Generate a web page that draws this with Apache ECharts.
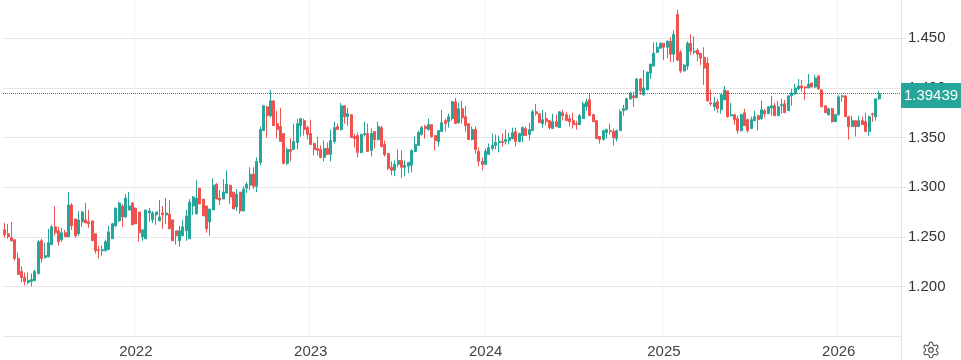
<!DOCTYPE html>
<html>
<head>
<meta charset="utf-8">
<title>Weekly price chart</title>
<style>
    html, body { margin: 0; padding: 0; background: #fff; }
    #chart { width: 961px; height: 360px; }
</style>
<script src="https://cdn.jsdelivr.net/npm/echarts@6/dist/echarts.min.js"></script>
</head>
<body>
<div id="chart"></div>
<script>
// weekly candles, first week starts 2021-04-05
var firstWeek = '2021-04-05';
var emptyWeeks = 6; // free room right of the last candle
var lastPrice = 1.39439;
var yearLabels = ['2022', '2023', '2024', '2025', '2026'];

var opens = [
    1.257,1.253,1.249,1.247,1.228,1.215,1.209,1.204,1.205,1.206,
    1.213,1.246,1.229,1.230,1.242,1.260,1.256,1.247,1.254,1.250,
    1.282,1.268,1.253,1.265,1.267,1.265,1.266,1.253,1.237,1.236,
    1.236,1.237,1.248,1.261,1.266,1.281,1.270,1.277,1.284,1.279,
    1.275,1.250,1.248,1.274,1.267,1.272,1.266,1.274,1.272,1.273,
    1.267,1.256,1.246,1.251,1.256,1.248,1.281,1.273,1.299,1.288,
    1.281,1.265,1.277,1.303,1.289,1.288,1.294,1.302,1.295,1.280,
    1.295,1.276,1.299,1.302,1.313,1.301,1.325,1.357,1.381,1.372,
    1.387,1.364,1.361,1.354,1.324,1.338,1.338,1.345,1.362,1.367,
    1.360,1.354,1.344,1.339,1.338,1.330,1.339,1.333,1.346,1.361,
    1.358,1.382,1.371,1.373,1.351,1.352,1.335,1.353,1.354,1.337,
    1.356,1.348,1.360,1.343,1.334,1.320,1.317,1.323,1.327,1.320,
    1.321,1.322,1.336,1.342,1.353,1.361,1.358,1.363,1.352,1.346,
    1.356,1.367,1.366,1.369,1.386,1.365,1.379,1.371,1.364,1.348,
    1.358,1.336,1.326,1.323,1.333,1.339,1.342,1.345,1.346,1.346,
    1.347,1.349,1.356,1.346,1.352,1.359,1.353,1.357,1.376,1.374,
    1.364,1.369,1.367,1.359,1.366,1.360,1.375,1.373,1.369,1.367,
    1.364,1.363,1.369,1.381,1.388,1.373,1.367,1.351,1.348,1.355,
    1.357,1.356,1.349,1.357,1.377,1.378,1.389,1.392,1.390,1.409,
    1.393,1.398,1.415,1.422,1.436,1.440,1.445,1.441,1.447,1.434,
    1.474,1.436,1.417,1.422,1.445,1.436,1.438,1.435,1.431,1.425,
    1.385,1.381,1.386,1.378,1.388,1.397,1.372,1.373,1.369,1.357,
    1.375,1.368,1.359,1.367,1.372,1.369,1.377,1.374,1.380,1.382,
    1.372,1.382,1.384,1.377,1.392,1.394,1.399,1.402,1.401,1.400,
    1.405,1.401,1.412,1.398,1.382,1.373,1.379,1.366,1.373,1.391,
    1.392,1.371,1.361,1.367,1.361,1.367,1.366,1.356,1.374,1.371,1.389
];
var closes = [
    1.252,1.250,1.246,1.228,1.212,1.209,1.205,1.206,1.207,1.215,
    1.245,1.228,1.231,1.244,1.260,1.254,1.245,1.254,1.250,1.282,
    1.261,1.251,1.267,1.275,1.264,1.263,1.246,1.236,1.236,1.237,
    1.245,1.255,1.263,1.279,1.284,1.270,1.289,1.281,1.262,1.263,
    1.254,1.257,1.277,1.276,1.274,1.275,1.270,1.272,1.274,1.258,
    1.246,1.251,1.256,1.260,1.271,1.285,1.290,1.289,1.283,1.271,
    1.258,1.278,1.302,1.288,1.287,1.295,1.303,1.290,1.278,1.293,
    1.276,1.298,1.303,1.313,1.301,1.326,1.358,1.382,1.372,1.387,
    1.362,1.358,1.346,1.324,1.338,1.336,1.346,1.364,1.369,1.358,
    1.353,1.343,1.338,1.337,1.330,1.339,1.333,1.347,1.360,1.358,
    1.382,1.371,1.374,1.350,1.349,1.335,1.353,1.354,1.336,1.354,
    1.348,1.361,1.341,1.333,1.319,1.317,1.323,1.327,1.320,1.322,
    1.325,1.337,1.343,1.355,1.360,1.359,1.363,1.351,1.347,1.357,
    1.365,1.364,1.371,1.386,1.364,1.379,1.370,1.362,1.348,1.358,
    1.338,1.326,1.323,1.336,1.340,1.342,1.345,1.346,1.345,1.348,
    1.350,1.355,1.346,1.354,1.360,1.352,1.358,1.376,1.374,1.365,
    1.368,1.366,1.360,1.366,1.361,1.376,1.372,1.367,1.366,1.363,
    1.363,1.372,1.384,1.386,1.372,1.366,1.349,1.348,1.357,1.358,
    1.356,1.350,1.357,1.376,1.379,1.389,1.395,1.390,1.409,1.397,
    1.400,1.416,1.424,1.435,1.441,1.445,1.441,1.447,1.434,1.454,
    1.428,1.417,1.423,1.445,1.437,1.437,1.434,1.430,1.420,1.387,
    1.384,1.385,1.379,1.393,1.398,1.371,1.373,1.368,1.357,1.373,
    1.362,1.357,1.368,1.371,1.368,1.378,1.374,1.381,1.382,1.372,
    1.381,1.383,1.375,1.392,1.395,1.400,1.402,1.400,1.400,1.404,
    1.401,1.410,1.399,1.381,1.375,1.379,1.366,1.373,1.391,1.392,
    1.371,1.361,1.367,1.361,1.367,1.363,1.356,1.371,1.373,1.389,1.39439
];
var highs = [
    1.264,1.263,1.265,1.247,1.234,1.220,1.214,1.214,1.213,1.217,
    1.247,1.248,1.244,1.258,1.262,1.281,1.260,1.259,1.257,1.295,
    1.284,1.268,1.276,1.276,1.284,1.277,1.266,1.253,1.241,1.241,
    1.247,1.261,1.264,1.279,1.285,1.283,1.293,1.295,1.285,1.279,
    1.275,1.258,1.277,1.279,1.276,1.275,1.287,1.281,1.289,1.287,
    1.267,1.256,1.261,1.267,1.277,1.288,1.291,1.307,1.299,1.288,
    1.281,1.278,1.309,1.304,1.297,1.308,1.317,1.302,1.295,1.298,
    1.295,1.301,1.305,1.320,1.320,1.330,1.361,1.383,1.382,1.398,
    1.387,1.377,1.380,1.354,1.340,1.349,1.364,1.369,1.370,1.369,
    1.362,1.368,1.345,1.351,1.342,1.347,1.345,1.358,1.366,1.364,
    1.385,1.382,1.380,1.373,1.354,1.355,1.354,1.366,1.364,1.359,
    1.356,1.366,1.362,1.347,1.334,1.326,1.327,1.338,1.337,1.327,
    1.325,1.338,1.351,1.357,1.362,1.363,1.369,1.363,1.352,1.357,
    1.378,1.369,1.374,1.387,1.390,1.385,1.387,1.382,1.364,1.361,
    1.361,1.340,1.330,1.339,1.344,1.354,1.353,1.352,1.354,1.358,
    1.355,1.360,1.360,1.355,1.361,1.361,1.365,1.378,1.384,1.374,
    1.378,1.376,1.367,1.374,1.373,1.376,1.378,1.376,1.373,1.375,
    1.367,1.374,1.386,1.389,1.395,1.374,1.367,1.351,1.358,1.359,
    1.364,1.359,1.358,1.378,1.383,1.390,1.396,1.396,1.410,1.410,
    1.418,1.416,1.424,1.446,1.446,1.446,1.445,1.448,1.451,1.458,
    1.479,1.438,1.424,1.447,1.454,1.452,1.440,1.435,1.441,1.431,
    1.398,1.391,1.389,1.394,1.402,1.397,1.385,1.374,1.372,1.374,
    1.379,1.369,1.371,1.377,1.373,1.387,1.379,1.381,1.392,1.385,
    1.387,1.389,1.388,1.392,1.399,1.404,1.409,1.408,1.402,1.414,
    1.405,1.413,1.413,1.399,1.382,1.380,1.380,1.374,1.393,1.393,
    1.392,1.372,1.372,1.367,1.372,1.371,1.375,1.372,1.375,1.389,1.397
];
var lows = [
    1.249,1.248,1.245,1.226,1.212,1.204,1.201,1.202,1.200,1.205,
    1.212,1.224,1.228,1.229,1.242,1.251,1.241,1.245,1.250,1.250,
    1.257,1.249,1.251,1.260,1.264,1.259,1.246,1.233,1.228,1.231,
    1.235,1.237,1.248,1.260,1.265,1.260,1.269,1.277,1.262,1.263,
    1.245,1.246,1.248,1.265,1.264,1.262,1.266,1.258,1.263,1.258,
    1.246,1.242,1.240,1.251,1.246,1.248,1.272,1.273,1.283,1.271,
    1.254,1.251,1.277,1.288,1.282,1.288,1.294,1.283,1.278,1.276,
    1.273,1.276,1.294,1.297,1.298,1.295,1.322,1.357,1.350,1.370,
    1.362,1.349,1.346,1.323,1.322,1.326,1.338,1.338,1.351,1.352,
    1.348,1.343,1.332,1.332,1.329,1.326,1.333,1.326,1.344,1.358,
    1.357,1.364,1.362,1.350,1.340,1.330,1.334,1.351,1.336,1.331,
    1.339,1.347,1.340,1.331,1.317,1.312,1.311,1.320,1.309,1.311,
    1.314,1.315,1.335,1.342,1.352,1.349,1.357,1.350,1.337,1.341,
    1.356,1.356,1.360,1.367,1.364,1.364,1.364,1.356,1.348,1.347,
    1.334,1.321,1.317,1.322,1.333,1.337,1.338,1.335,1.341,1.343,
    1.343,1.348,1.341,1.345,1.345,1.352,1.347,1.357,1.372,1.365,
    1.360,1.362,1.358,1.359,1.361,1.360,1.367,1.367,1.361,1.359,
    1.358,1.363,1.369,1.377,1.372,1.366,1.349,1.344,1.347,1.349,
    1.353,1.342,1.346,1.357,1.372,1.378,1.388,1.381,1.390,1.393,
    1.392,1.398,1.409,1.422,1.435,1.440,1.428,1.430,1.426,1.426,
    1.427,1.415,1.417,1.418,1.433,1.434,1.427,1.423,1.403,1.386,
    1.382,1.377,1.375,1.374,1.388,1.370,1.371,1.363,1.354,1.356,
    1.362,1.355,1.359,1.367,1.357,1.368,1.370,1.374,1.372,1.372,
    1.372,1.374,1.375,1.377,1.382,1.393,1.398,1.396,1.388,1.400,
    1.400,1.400,1.398,1.381,1.375,1.372,1.365,1.366,1.372,1.386,
    1.371,1.348,1.361,1.351,1.361,1.363,1.356,1.352,1.366,1.367,1.388
];

var upColor = '#26a69a';
var downColor = '#ef5350';

// one category per week, padded to leave the gap before the price scale
var weeks = [];
var day = new Date(firstWeek + 'T00:00:00Z');
for (var w = 0; w < opens.length + emptyWeeks; w++) {
    weeks.push(day.toISOString().slice(0, 10));
    day = new Date(+day + 7 * 24 * 3600 * 1000);
}

// the first week of each labelled year carries the tick, label and grid line
function isYearStart (index) {
    var year = weeks[index].slice(0, 4);
    return index > 0 && year !== weeks[index - 1].slice(0, 4) && yearLabels.indexOf(year) > -1;
}

var candles = [];
for (var i = 0; i < opens.length; i++) {
    candles.push([opens[i], closes[i], lows[i], highs[i]]);
}

// settings gear, the graphic component has no plain svg path type
echarts.graphic.registerShape('gear', echarts.graphic.extendPath('M12.22 2h-.44a2 2 0 0 0-2 2v.18a2 2 0 0 1-1 1.73l-.43.25a2 2 0 0 1-2 0l-.15-.08a2 2 0 0 0-2.73.73l-.22.38a2 2 0 0 0 .73 2.73l.15.1a2 2 0 0 1 1 1.72v.51a2 2 0 0 1-1 1.74l-.15.09a2 2 0 0 0-.73 2.73l.22.38a2 2 0 0 0 2.73.73l.15-.08a2 2 0 0 1 2 0l.43.25a2 2 0 0 1 1 1.73V20a2 2 0 0 0 2 2h.44a2 2 0 0 0 2-2v-.18a2 2 0 0 1 1-1.73l.43-.25a2 2 0 0 1 2 0l.15.08a2 2 0 0 0 2.73-.73l.22-.39a2 2 0 0 0-.73-2.73l-.15-.08a2 2 0 0 1-1-1.74v-.5a2 2 0 0 1 1-1.74l.15-.09a2 2 0 0 0 .73-2.73l-.22-.38a2 2 0 0 0-2.73-.73l-.15.08a2 2 0 0 1-2 0l-.43-.25a2 2 0 0 1-1-1.73V4a2 2 0 0 0-2-2zM15 12a3 3 0 1 1-6 0 3 3 0 0 1 6 0z', {}));

var myChart = echarts.init(document.getElementById('chart'), null, { renderer: 'canvas' });
var option = {
    animation: false,
    textStyle: { fontFamily: '"Liberation Sans", Arial, sans-serif' },
    grid: { left: 3, top: 0, right: 60, bottom: 24 },
    xAxis: {
        type: 'category',
        data: weeks,
        axisLine: { show: true, lineStyle: { color: '#e3e5e8', width: 1 } },
        axisTick: { show: false },
        axisLabel: {
            interval: function (index) { return isYearStart(index); },
            formatter: function (value) { return value.slice(0, 4); },
            color: '#434343',
            fontSize: 15,
            margin: 8
        },
        splitLine: {
            show: true,
            interval: function (index) { return isYearStart(index); },
            lineStyle: { color: '#f0f3f8', width: 1 }
        }
    },
    yAxis: {
        type: 'value',
        position: 'right',
        min: 1.15,
        max: 1.4886,
        interval: 0.05,
        axisLine: { show: true, lineStyle: { color: '#e3e5e8', width: 1 } },
        axisTick: { show: true, length: 5, lineStyle: { color: '#e3e5e8' } },
        axisLabel: {
            showMinLabel: false,
            showMaxLabel: false,
            formatter: function (value) { return value.toFixed(3); },
            color: '#333333',
            fontSize: 15,
            margin: 7
        },
        splitLine: {
            show: true,
            showMinLine: false,
            showMaxLine: false,
            lineStyle: { color: '#e6e6e6', width: 1 }
        }
    },
    series: [{
        type: 'candlestick',
        data: candles,
        barWidth: 2.5,
        itemStyle: {
            color: upColor,
            color0: downColor,
            borderColor: upColor,
            borderColor0: downColor,
            borderWidth: 1
        },
        markLine: {
            silent: true,
            symbol: 'none',
            animation: false,
            precision: 5,
            lineStyle: { color: '#1f8f85', type: [1, 1], width: 1 },
            label: {
                position: 'end',
                distance: 0,
                formatter: lastPrice.toFixed(5),
                color: '#ffffff',
                backgroundColor: upColor,
                fontSize: 15,
                width: 60,
                height: 25,
                lineHeight: 25,
                align: 'center',
                offset: [30, 2]
            },
            data: [{ yAxis: lastPrice }]
        }
    }],
    graphic: [
        // price scale border runs on past the time axis
        {
            type: 'line',
            silent: true,
            shape: { x1: 901.5, y1: 336, x2: 901.5, y2: 360 },
            style: { stroke: '#e3e5e8', lineWidth: 1 }
        },
        {
            type: 'gear',
            silent: true,
            x: 921.6,
            y: 340.6,
            scaleX: 0.78,
            scaleY: 0.78,
            style: { fill: 'none', stroke: '#555555', lineWidth: 1.5 }
        }
    ]
};
myChart.setOption(option);
</script>
</body>
</html>
